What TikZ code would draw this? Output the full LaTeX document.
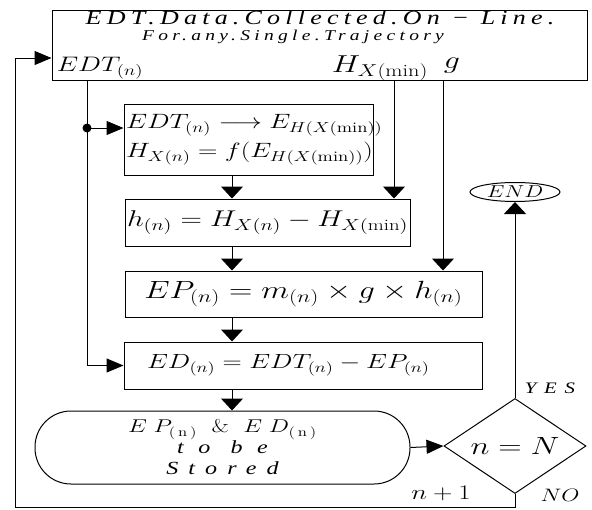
\RequirePackage{fix-cm}
\documentclass[tikz,border=0pt]{standalone}
\usepackage{fontspec}
\usepackage{graphicx}
\usetikzlibrary{arrows.meta,shapes.geometric}
\newfontfamily\itfont{Liberation Serif}
\newcommand{\stretchx}[1]{\scalebox{1.3}[1]{#1}}
\newcommand{\spaced}[2]{{\itfont\itshape\addfontfeatures{LetterSpace=#1}#2}}
\begin{document}
\begin{tikzpicture}[x=1pt,y=-1pt,line width=1pt,
  box/.style={draw,rectangle,inner sep=2pt},
  varr/.style={-{Triangle[length=12pt,width=22pt]}},
  harr/.style={-{Triangle[length=17pt,width=14pt]}},
  every node/.style={font=\fontsize{20.7}{24}\selectfont}]
\useasboundingbox (0,0) rectangle (592,509);
% boxes
\node[box,minimum width=535pt,minimum height=70pt] (top) at (319.5,45) {};
\node[box,text width=245pt,minimum height=71pt,align=left] (conv) at (248.5,139.5)
  {\stretchx{$EDT_{(n)}\longrightarrow E_{H(X(\mathrm{min}))}$}\\[5pt]
   \stretchx{$H_{X(n)}=f(E_{H(X(\mathrm{min}))})$}};
\node[box,text width=281pt,minimum height=47pt,align=left,font=\fontsize{22.8}{26}\selectfont] (hbox) at (267.5,222.5)
  {\stretchx{$h_{(n)}=H_{X(n)}-H_{X(\mathrm{min})}$}};
\node[box,minimum width=357pt,minimum height=46pt,font=\fontsize{24.9}{28}\selectfont] (ep) at (303.5,294)
  {\stretchx{$EP_{(n)}=m_{(n)}\times g\times h_{(n)}$}};
\node[box,text width=312pt,inner xsep=23pt,minimum height=47pt,align=left,font=\fontsize{20.5}{24}\selectfont] (ed) at (303,365.5)
  {\stretchx{$ED_{(n)}=EDT_{(n)}-EP_{(n)}$}};
\node[box,rounded corners=36pt,minimum width=375pt,minimum height=73pt,align=center,
  font=\fontsize{18.5}{21}\selectfont] (store) at (222.5,447.5)
  {\stretchx{$E\;P_{(\,\mathrm{n}\,)}\ \ \&\ \ E\;D_{(\,\mathrm{n}\,)}$}\\
   \stretchx{\spaced{60}{to be}}\\
   \stretchx{\spaced{42}{Stored}}};
\node[draw,diamond,aspect=1.5,inner sep=0pt,minimum width=142pt,minimum height=95pt,
  font=\fontsize{24.9}{28}\selectfont] (dec) at (515,446) {\stretchx{$n=N$}};
\node[draw,ellipse,inner sep=0pt,minimum width=90pt,minimum height=19pt,
  font=\fontsize{17.3}{20}\selectfont] (stop) at (515,192) {\stretchx{$END$}};
% texts in the top box
\node[inner sep=0pt,font=\fontsize{20}{24}\selectfont] (title1) at (320,18)
  {\stretchx{\spaced{20}{EDT.Data.Collected.On − Line.}}};
\node[inner sep=0pt,font=\fontsize{15}{18}\selectfont] (title2) at (293,37)
  {\stretchx{\spaced{22}{For.any.Single.Trajectory}}};
\node[font=\fontsize{21}{24}\selectfont] (edtlbl) at (100,68) {\stretchx{$EDT_{(n)}$}};
\node[font=\fontsize{24.5}{27}\selectfont] (hlbl) at (380,68) {\stretchx{$H_{X(\mathrm{min})}$}};
\node[font=\fontsize{24.5}{27}\selectfont] (glbl) at (452,66) {\stretchx{$g$}};
% labels of the test
\node[font=\fontsize{16}{18}\selectfont] (yes) at (550,388) {\stretchx{\spaced{37}{YES}}};
\node[font=\fontsize{18}{21}\selectfont] (no) at (560,495) {\stretchx{$NO$}};
\node[font=\fontsize{20.7}{24}\selectfont] (next) at (441,493) {\stretchx{$n+1$}};
% connectors
\coordinate (tap) at (87,128);
\coordinate (spine) at (232,0);
\coordinate (hmin) at (394,0);
\coordinate (gval) at (443,0);
\coordinate (corner) at (15,507);
\coordinate (fb) at (15,58);
\draw[harr] (top.south -| tap) |- (ed.west);
\draw[harr] (tap) -- (tap -| conv.west);
\fill (tap) circle (4.5pt);
\draw[varr] (conv.south -| spine) -- (hbox.north -| spine);
\draw[varr] (hbox.south -| spine) -- (ep.north -| spine);
\draw[varr] (ep.south -| spine) -- (ed.north -| spine);
\draw[varr] (ed.south -| spine) -- (store.north -| spine);
\draw[varr] (top.south -| hmin) -- (hbox.north -| hmin);
\draw[varr] (top.south -| gval) -- (ep.north -| gval);
\draw[harr] (store.east) -- (dec.west);
\draw[varr] (dec.north) -- (stop.south);
\draw[harr] (dec.south) |- (corner) -- (fb) -- (fb -| top.west);
\end{tikzpicture}
\end{document}
